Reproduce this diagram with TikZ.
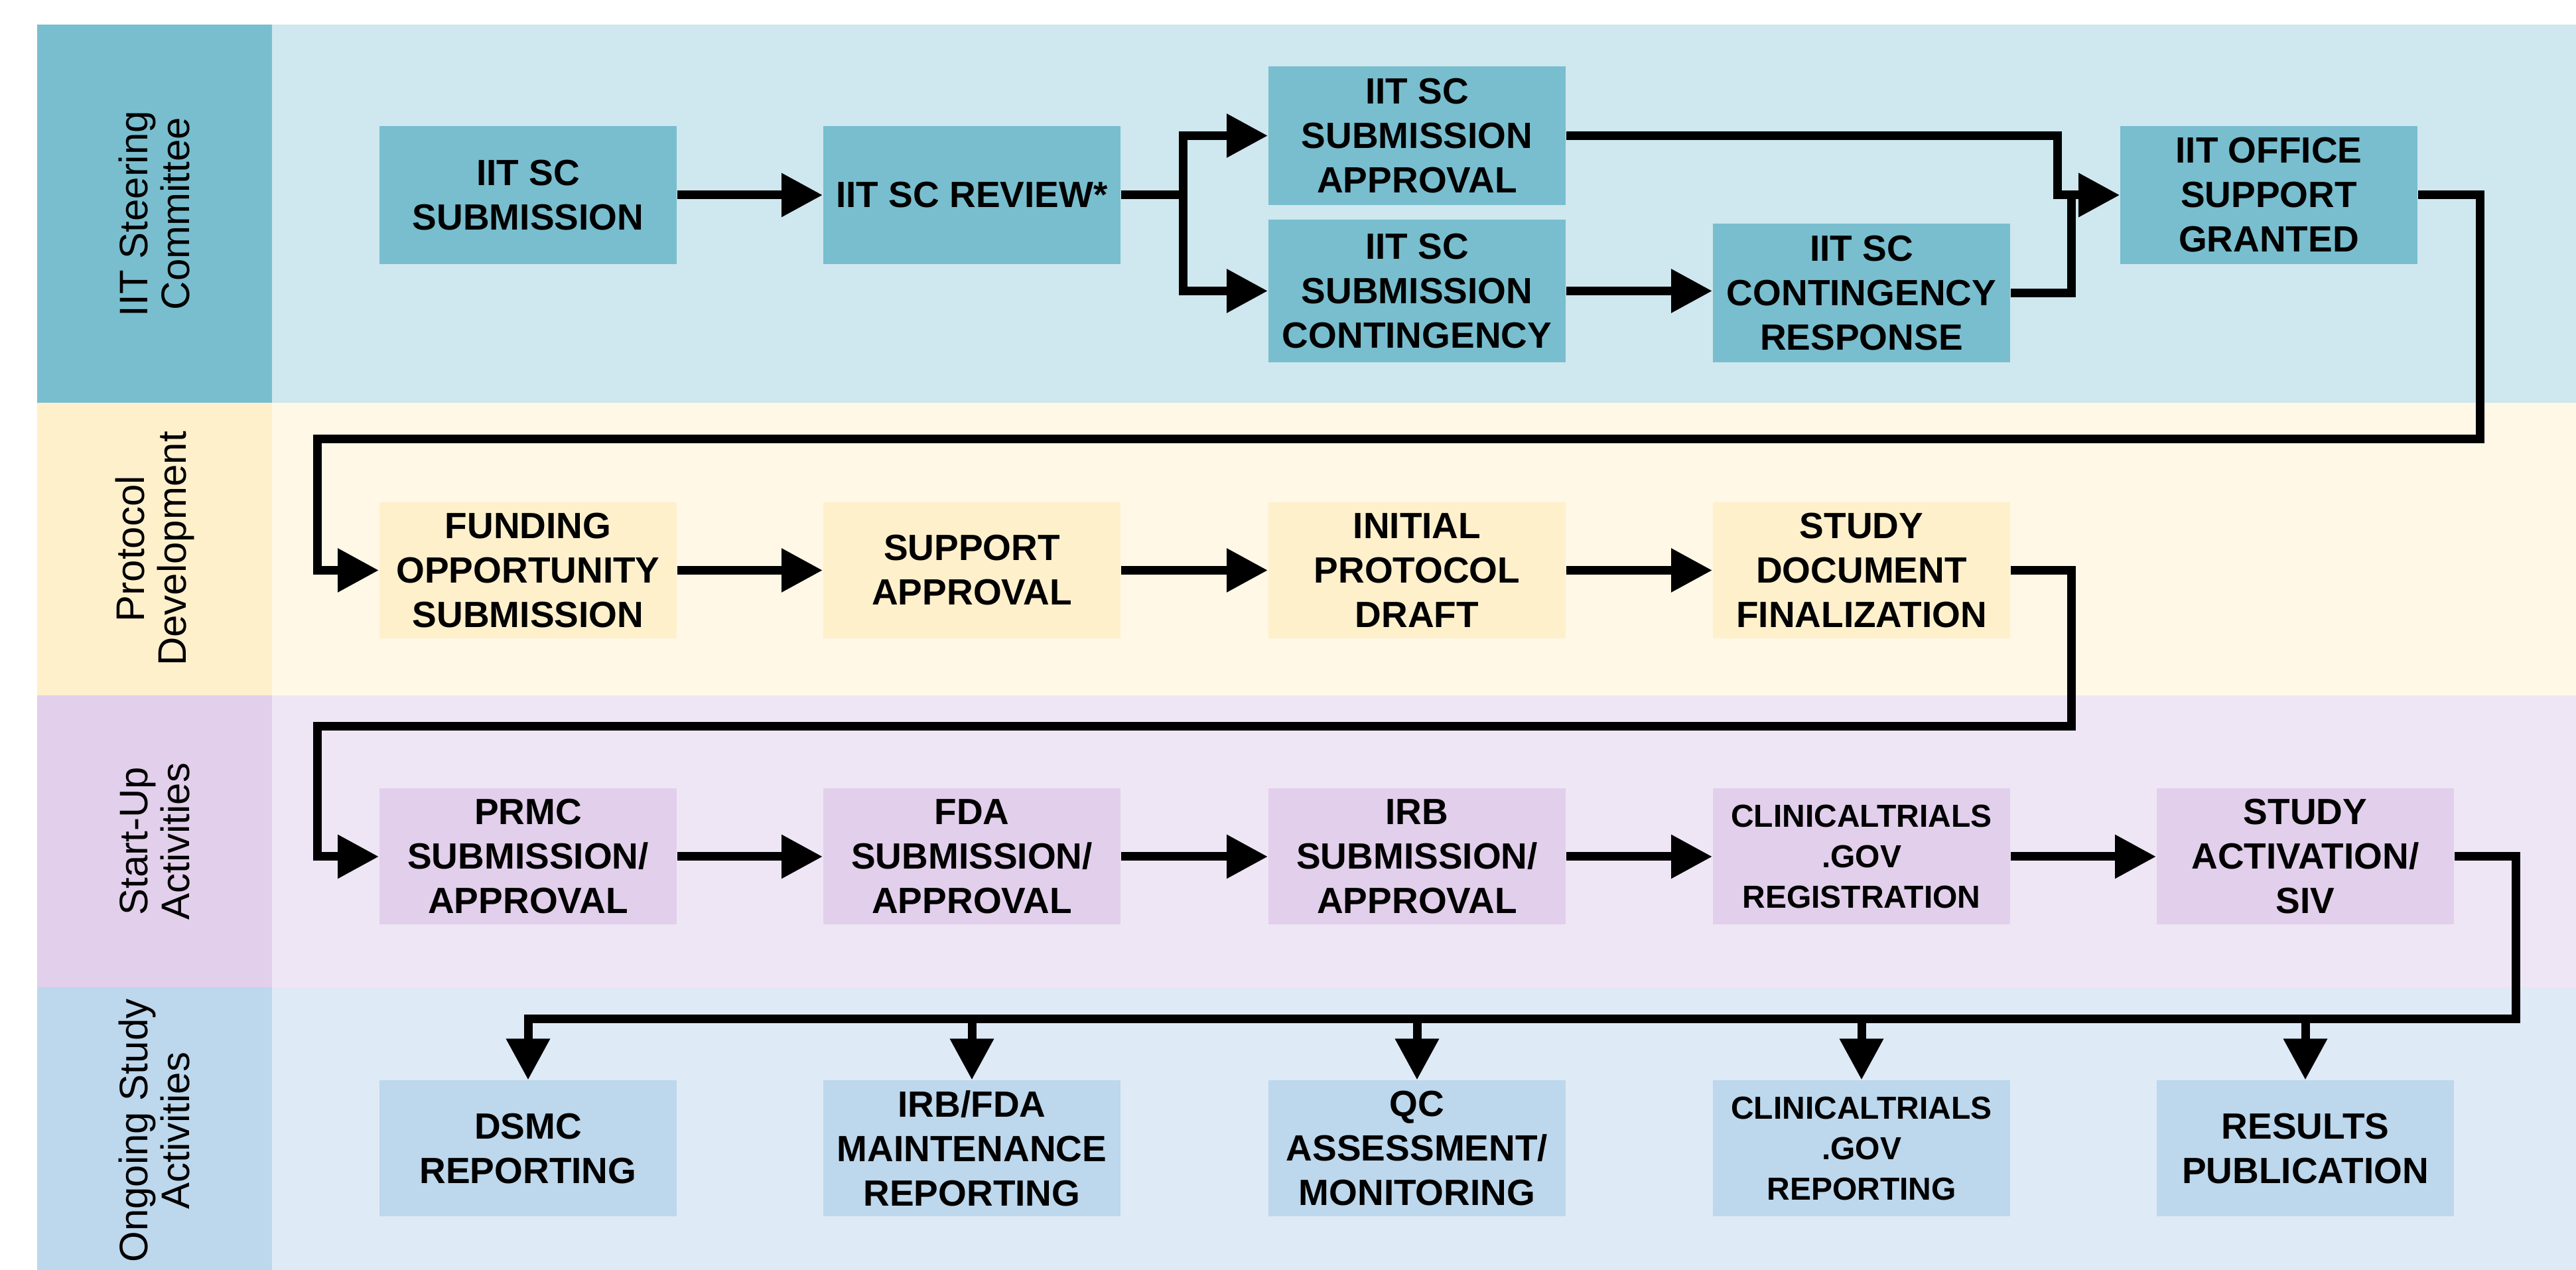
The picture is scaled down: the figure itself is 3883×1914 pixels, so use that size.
\documentclass[tikz,border=0pt]{standalone}
\usepackage{fontspec}
\setmainfont{Liberation Sans}
\usetikzlibrary{arrows.meta,calc}
\definecolor{laneAbox}{HTML}{78BECF}
\definecolor{laneAbg}{HTML}{CFE7EE}
\definecolor{laneBbox}{HTML}{FFF0CC}
\definecolor{laneBbg}{HTML}{FFF8E6}
\definecolor{laneCbox}{HTML}{E2CFEB}
\definecolor{laneCbg}{HTML}{EEE6F5}
\definecolor{laneDbox}{HTML}{BDD7EC}
\definecolor{laneDbg}{HTML}{DEEAF6}
\begin{document}
\begin{tikzpicture}[x=0.2pt,y=-0.2pt,
  flowbox/.style={minimum width=89.6pt,minimum height=41pt,inner sep=0pt,align=center,
    font=\bfseries\fontsize{11}{13.4}\selectfont},
  smalltxt/.style={font=\bfseries\fontsize{9.6}{12.2}\selectfont},
  lanelabel/.style={rotate=90,align=center,inner sep=0pt,font=\fontsize{12}{12.6}\selectfont},
  wire/.style={line width=2.6pt},
  wirearrow/.style={wire,-{Triangle[length=12.4pt,width=12.6pt]}}]
\useasboundingbox (0,0) rectangle (3883,1914);
% lanes
\fill[laneAbg] (56,37) rectangle (3883,607);
\fill[laneAbox] (56,37) rectangle (410,607);
\fill[laneBbg] (56,607) rectangle (3883,1048);
\fill[laneBbox] (56,607) rectangle (410,1048);
\fill[laneCbg] (56,1048) rectangle (3883,1488);
\fill[laneCbox] (56,1048) rectangle (410,1488);
\fill[laneDbg] (56,1488) rectangle (3883,1914);
\fill[laneDbox] (56,1488) rectangle (410,1914);
\node[lanelabel] (lA) at (233,322) {IIT Steering\\Committee};
\node[lanelabel] (lB) at (233,827) {Protocol\\Development};
\node[lanelabel] (lC) at (233,1268) {Start-Up\\Activities};
\node[lanelabel] (lD) at (233,1704) {Ongoing Study\\Activities};
% row 1
\node[flowbox,fill=laneAbox,minimum height=41.6pt] (scsub) at (796,294) {IIT SC\\SUBMISSION};
\node[flowbox,fill=laneAbox,minimum height=41.6pt] (screv) at (1465,294) {IIT SC REVIEW*};
\node[flowbox,fill=laneAbox,minimum height=41.8pt] (scapp) at (2136,204.5) {IIT SC\\SUBMISSION\\APPROVAL};
\node[flowbox,fill=laneAbox,minimum height=43pt] (sccon) at (2136,438.5) {IIT SC\\SUBMISSION\\CONTINGENCY};
\node[flowbox,fill=laneAbox,minimum height=41.8pt] (scres) at (2806,441.5) {IIT SC\\CONTINGENCY\\RESPONSE};
\node[flowbox,fill=laneAbox,minimum height=41.6pt] (office) at (3420,294) {IIT OFFICE\\SUPPORT\\GRANTED};
% row 2
\node[flowbox,fill=laneBbox] (fund) at (796,859.5) {FUNDING\\OPPORTUNITY\\SUBMISSION};
\node[flowbox,fill=laneBbox] (supp) at (1465,859.5) {SUPPORT\\APPROVAL};
\node[flowbox,fill=laneBbox] (init) at (2136,859.5) {INITIAL\\PROTOCOL\\DRAFT};
\node[flowbox,fill=laneBbox] (docf) at (2806,859.5) {STUDY\\DOCUMENT\\FINALIZATION};
% row 3
\node[flowbox,fill=laneCbox] (prmc) at (796,1291) {PRMC\\SUBMISSION/\\APPROVAL};
\node[flowbox,fill=laneCbox] (fda) at (1465,1291) {FDA\\SUBMISSION/\\APPROVAL};
\node[flowbox,fill=laneCbox] (irb) at (2136,1291) {IRB\\SUBMISSION/\\APPROVAL};
\node[flowbox,smalltxt,fill=laneCbox] (ctreg) at (2806,1291) {CLINICALTRIALS\\.GOV\\REGISTRATION};
\node[flowbox,fill=laneCbox] (act) at (3475,1291) {STUDY\\ACTIVATION/\\SIV};
% row 4
\node[flowbox,fill=laneDbox] (dsmc) at (796,1731) {DSMC\\REPORTING};
\node[flowbox,fill=laneDbox] (maint) at (1465,1731) {IRB/FDA\\MAINTENANCE\\REPORTING};
\node[flowbox,fill=laneDbox] (qc) at (2136,1731) {QC\\ASSESSMENT/\\MONITORING};
\node[flowbox,smalltxt,fill=laneDbox] (ctrep) at (2806,1731) {CLINICALTRIALS\\.GOV\\REPORTING};
\node[flowbox,fill=laneDbox] (pub) at (3475,1731) {RESULTS\\PUBLICATION};
% junctions
\coordinate (jrev) at (1783,294);
\coordinate (japp) at (3101,294);
\coordinate (jres) at (3122,294);
\coordinate (bus) at (0,1536);
% connectors row 1
\draw[wirearrow] (scsub.east) -- (screv.west);
\draw[wire] (screv.east) -- (jrev);
\draw[wirearrow] (jrev) |- (scapp.west);
\draw[wirearrow] (jrev) |- (sccon.west);
\draw[wirearrow] (sccon.east) -- (sccon.east -| scres.west);
\draw[wirearrow] (scapp.east) -| (japp) -- (office.west);
\draw[wirearrow] (scres.east) -| (jres) -- (office.west);
% office -> funding
\draw[wirearrow] (office.east) -- (3738,294) -- (3738,662) -- (478,662) |- (fund.west);
% row 2
\draw[wirearrow] (fund.east) -- (supp.west);
\draw[wirearrow] (supp.east) -- (init.west);
\draw[wirearrow] (init.east) -- (docf.west);
\draw[wirearrow] (docf.east) -- (3122,859.5) -- (3122,1095) -- (478,1095) |- (prmc.west);
% row 3
\draw[wirearrow] (prmc.east) -- (fda.west);
\draw[wirearrow] (fda.east) -- (irb.west);
\draw[wirearrow] (irb.east) -- (ctreg.west);
\draw[wirearrow] (ctreg.east) -- (act.west);
% to row 4
\draw[wirearrow] (act.east) -- (3792,1291) -- (3792,1536) -| (dsmc.north);
\draw[wirearrow] (maint.north |- bus) -- (maint.north);
\draw[wirearrow] (qc.north |- bus) -- (qc.north);
\draw[wirearrow] (ctrep.north |- bus) -- (ctrep.north);
\draw[wirearrow] (pub.north |- bus) -- (pub.north);
\end{tikzpicture}
\end{document}
